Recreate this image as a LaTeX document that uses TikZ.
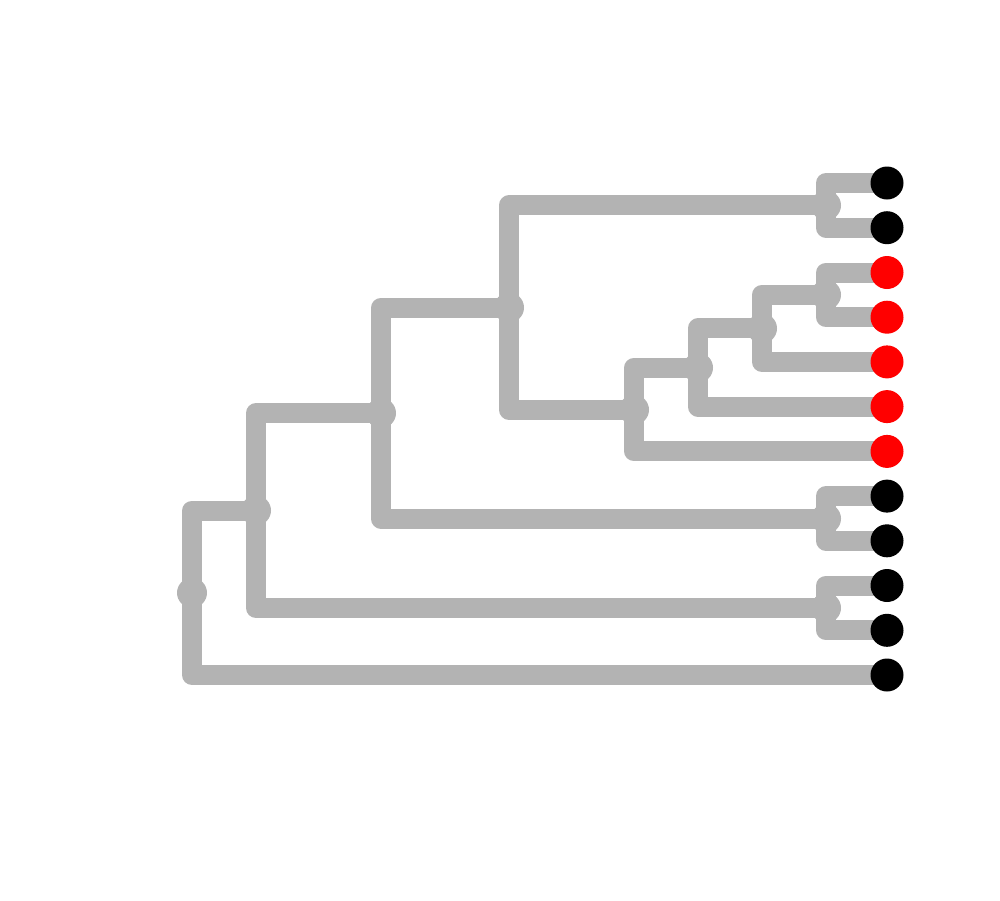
\documentclass[tikz,border=0pt]{standalone}
\usetikzlibrary{calc}
\definecolor{edgegray}{RGB}{179,179,179}
\pgfdeclarelayer{bg}
\pgfsetlayers{bg,main}
\begin{document}
\begin{tikzpicture}[x=1pt,y=-1pt,
  tip/.style={circle,fill=black,inner sep=0pt,minimum size=33pt},
  redtip/.style={tip,fill=red},
  inode/.style={circle,fill=edgegray,inner sep=0pt,minimum size=30pt},
  edge/.style={draw=edgegray,line width=20pt,line cap=round,line join=round}]
\useasboundingbox (0,0) rectangle (1000,900);
% tips
\node[tip]    (t1)  at (887,183.0) {};
\node[tip]    (t2)  at (887,227.7) {};
\node[redtip] (t3)  at (887,272.5) {};
\node[redtip] (t4)  at (887,317.2) {};
\node[redtip] (t5)  at (887,361.9) {};
\node[redtip] (t6)  at (887,406.6) {};
\node[redtip] (t7)  at (887,451.4) {};
\node[tip]    (t8)  at (887,496.1) {};
\node[tip]    (t9)  at (887,540.8) {};
\node[tip]    (t10) at (887,585.5) {};
\node[tip]    (t11) at (887,630.3) {};
\node[tip]    (t12) at (887,675.0) {};
% internal nodes
\begin{pgfonlayer}{bg}
\node[inode] (A) at (826,205.4) {};
\node[inode] (B) at (826,294.8) {};
\node[inode] (C) at (762,328.4) {};
\node[inode] (D) at (698,367.7) {};
\node[inode] (E) at (634,409.8) {};
\node[inode] (F) at (509,307.6) {};
\node[inode] (G) at (826,518.6) {};
\node[inode] (H) at (381,413.1) {};
\node[inode] (I) at (826,607.9) {};
\node[inode] (J) at (256,510.5) {};
\node[inode] (K) at (192,592.8) {};
\foreach \p/\c in {A/t1,A/t2,B/t3,B/t4,C/B,C/t5,D/C,D/t6,E/D,E/t7,F/A,F/E,G/t8,G/t9,H/F,H/G,I/t10,I/t11,J/H,J/I,K/J,K/t12}
  \draw[edge] (\p.center) |- (\c.center);
\end{pgfonlayer}
\end{tikzpicture}
\end{document}
